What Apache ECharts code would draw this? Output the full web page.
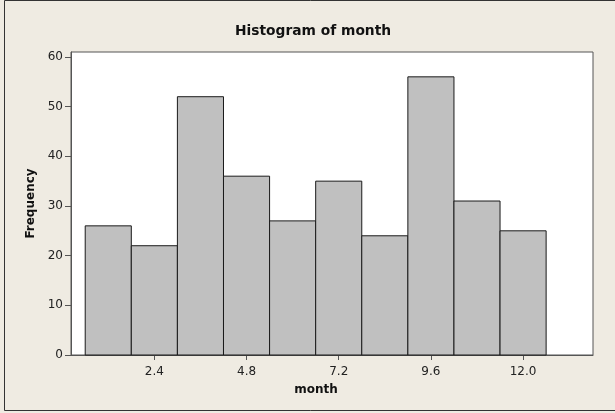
<!DOCTYPE html>
<html>
<head>
<meta charset="utf-8">
<title>Histogram of month</title>
<script src="https://cdn.jsdelivr.net/npm/echarts@6/dist/echarts.min.js"></script>
<style>
  html, body { margin: 0; padding: 0; background: #efebe2; }
  #chart { width: 615px; height: 413px; }
</style>
</head>
<body>
<div id="chart"></div>
<script>
// histogram bins (centres) and counts
const binCenters = [1.2, 2.4, 3.6, 4.8, 6.0, 7.2, 8.4, 9.6, 10.8, 12.0];
const counts = [26, 22, 52, 36, 27, 35, 24, 56, 31, 25];
const binWidth = 1.2;
const xTicks = [2.4, 4.8, 7.2, 9.6, 12.0];

const font = 'DejaVu Sans';

const chart = echarts.init(document.getElementById('chart'));

const options = {
  backgroundColor: '#efebe2',
  animation: false,
  title: {
    text: 'Histogram of month',
    left: 230,
    top: 19,
    textStyle: { fontFamily: font, fontSize: 13.8, fontWeight: 'bold', color: '#111' },
  },
  grid: {
    left: 71,
    right: 22,
    top: 52,
    bottom: 58,
    show: true,
    backgroundColor: '#fff',
    borderColor: '#555',
    borderWidth: 1,
  },
  xAxis: {
    type: 'value',
    min: 0.23,
    max: 13.82,
    name: 'month',
    nameLocation: 'middle',
    nameGap: 29,
    nameTextStyle: {
      fontFamily: font, fontSize: 12, fontWeight: 'bold', color: '#111',
      padding: [0, 32, 0, 0],
    },
    splitLine: { show: false },
    axisLine: { show: true, lineStyle: { color: '#555' } },
    axisTick: { show: true, length: 5, customValues: xTicks, lineStyle: { color: '#555' } },
    axisLabel: {
      customValues: xTicks,
      formatter: (v) => v.toFixed(1),
      fontFamily: font,
      fontSize: 12,
      color: '#222',
      margin: 11,
    },
  },
  yAxis: {
    type: 'value',
    min: 0,
    max: 61,
    interval: 10,
    name: 'Frequency',
    nameLocation: 'middle',
    nameGap: 32,
    nameTextStyle: { fontFamily: font, fontSize: 12, fontWeight: 'bold', color: '#111' },
    splitLine: { show: false },
    axisLine: { show: true, lineStyle: { color: '#555' } },
    axisTick: { show: true, length: 6, lineStyle: { color: '#555' } },
    axisLabel: {
      fontFamily: font,
      fontSize: 12,
      color: '#222',
      margin: 8,
      showMaxLabel: false,
    },
  },
  graphic: [
    {
      // outer frame: top, left and bottom edges only
      type: 'polyline',
      shape: { points: [[620, 0.5], [4.5, 0.5], [4.5, 410.5], [620, 410.5]] },
      style: { fill: 'none', stroke: '#333', lineWidth: 1 },
      silent: true,
    },
  ],
  series: [
    {
      type: 'custom',
      data: binCenters.map((c, i) => [c, counts[i]]),
      renderItem: (params, api) => {
        const c = api.value(0);
        const n = api.value(1);
        const p0 = api.coord([c - binWidth / 2, n]);
        const p1 = api.coord([c + binWidth / 2, 0]);
        return {
          type: 'rect',
          shape: { x: p0[0], y: p0[1], width: p1[0] - p0[0], height: p1[1] - p0[1] },
          style: { fill: '#c0c0c0', stroke: '#1a1a1a', lineWidth: 1 },
        };
      },
    },
  ],
};

chart.setOption(options);
</script>
</body>
</html>
